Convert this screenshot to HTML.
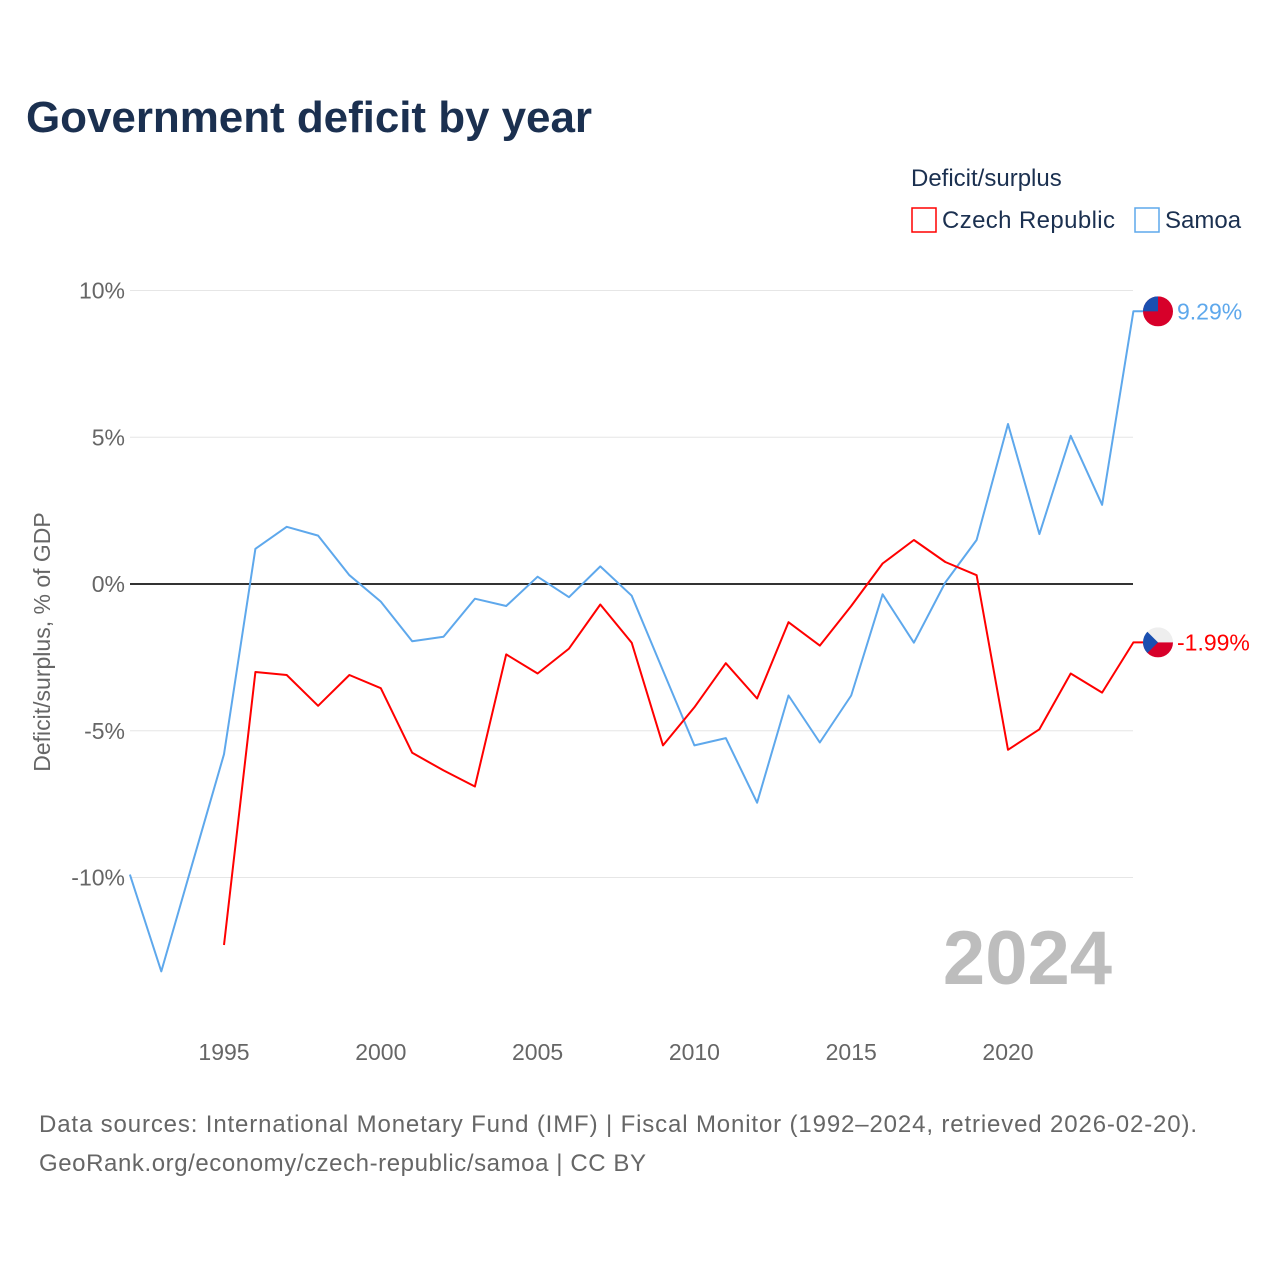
<!DOCTYPE html>
<html><head><meta charset="utf-8"><style>
body{margin:0;background:#fff;width:1280px;height:1280px;overflow:hidden;font-family:"Liberation Sans",sans-serif}
</style></head><body>
<svg id="chart" width="1280" height="1280" xmlns="http://www.w3.org/2000/svg" font-family="Liberation Sans, sans-serif">
<text x="26" y="132" font-size="44" font-weight="bold" fill="#1b3050" textLength="566">Government deficit by year</text>
<text x="911" y="186" font-size="24" fill="#1b3050">Deficit/surplus</text>
<g><rect x="912" y="208" width="24" height="24" fill="#fff" stroke="#ff0000" stroke-width="1.5"/><text x="942" y="228" font-size="24" fill="#1b3050" textLength="173">Czech Republic</text></g>
<g><rect x="1135" y="208" width="24" height="24" fill="#fff" stroke="#5ea8ec" stroke-width="1.5"/><text x="1165" y="228" font-size="24" fill="#1b3050">Samoa</text></g>
<text transform="translate(50,642) rotate(-90)" text-anchor="middle" font-size="23" fill="#666">Deficit/surplus, % of GDP</text>
<text x="1112" y="984" text-anchor="end" font-size="76" font-weight="bold" fill="#bdbdbd">2024</text>
<g id="grid"></g><g id="series"></g>
<text x="39" y="1132" font-size="24" fill="#666" textLength="1158">Data sources: International Monetary Fund (IMF) | Fiscal Monitor (1992–2024, retrieved 2026-02-20).</text>
<text x="39" y="1171" font-size="24" fill="#666" textLength="607">GeoRank.org/economy/czech-republic/samoa | CC BY</text>
</svg>
<script>
const years=[1992,1993,1994,1995,1996,1997,1998,1999,2000,2001,2002,2003,2004,2005,2006,2007,2008,2009,2010,2011,2012,2013,2014,2015,2016,2017,2018,2019,2020,2021,2022,2023,2024];
const samoa=[-9.9,-13.2,-9.5,-5.8,1.2,1.95,1.65,0.3,-0.6,-1.95,-1.8,-0.5,-0.75,0.25,-0.45,0.6,-0.4,-2.95,-5.5,-5.25,-7.45,-3.8,-5.4,-3.8,-0.35,-2.0,0.05,1.5,5.45,1.7,5.05,2.7,9.29];
const czech=[null,null,null,-12.3,-3.0,-3.1,-4.15,-3.1,-3.55,-5.75,-6.35,-6.9,-2.4,-3.05,-2.2,-0.7,-2.0,-5.5,-4.2,-2.7,-3.9,-1.3,-2.1,-0.75,0.7,1.5,0.75,0.3,-5.65,-4.95,-3.05,-3.7,-1.99];
const yTicks=[10,5,0,-5,-10];
const xTicks=[1995,2000,2005,2010,2015,2020];
const X=y=>224+(y-1995)*31.36;
const Y=v=>584-v*29.35;
const NS="http://www.w3.org/2000/svg";
const g=document.getElementById('grid'),s=document.getElementById('series');
function mk(tag,attrs,par){const e=document.createElementNS(NS,tag);for(const k in attrs)e.setAttribute(k,attrs[k]);par.appendChild(e);return e;}
yTicks.forEach(v=>{
 const l=mk('line',{x1:130,x2:1133,y1:Y(v),y2:Y(v),stroke:v===0?'#333':'#e6e6e6','stroke-width':v===0?2:1},g);
 
 
 const t=mk('text',{x:125,y:Y(v)+8,'text-anchor':'end','font-size':23,fill:'#666'},g);
 
 
 t.textContent=v+'%';
});
xTicks.forEach(v=>{
 const t=mk('text',{x:X(v),y:1060,'text-anchor':'middle','font-size':23,fill:'#666'},g);
 
 
 t.textContent=v;
});
function line(vals,color,name){
 let d='';vals.forEach((v,i)=>{if(v==null)return;d+=(d?'L':'M')+X(years[i]).toFixed(1)+','+Y(v).toFixed(1);});
 const last=vals[vals.length-1];d+='L1143,'+Y(last).toFixed(1);
 const p=mk('path',{d:d,fill:'none',stroke:color,'stroke-width':2,'stroke-linejoin':'round'},s);
 
 
 const t=mk('text',{x:1177,y:Y(last)+8,'font-size':23,fill:color},s);
 
 
 t.textContent=last.toFixed(2)+'%';
 return Y(last);
}
const ys=line(samoa,'#5ea8ec','samoa');
const yc=line(czech,'#ff0000','czech');
const f1=mk('g',{},s);


const cp1=mk('clipPath',{id:'c1'},f1);mk('circle',{cx:1158,cy:ys,r:15},cp1);
mk('rect',{x:1143,y:ys-15,width:30,height:30,fill:'#d7002a','clip-path':'url(#c1)'},f1);
mk('rect',{x:1143,y:ys-15,width:15,height:15,fill:'#1a4fb0','clip-path':'url(#c1)'},f1);
const f2=mk('g',{},s);


const cp=mk('clipPath',{id:'c2'},f2);mk('circle',{cx:1158,cy:yc,r:15},cp);
mk('rect',{x:1143,y:yc-15,width:30,height:15,fill:'#eeeeee','clip-path':'url(#c2)'},f2);
mk('rect',{x:1143,y:yc,width:30,height:15,fill:'#d7002a','clip-path':'url(#c2)'},f2);
mk('polygon',{points:`1143,${yc-15} 1158,${yc} 1143,${yc+15}`,fill:'#1a4fb0','clip-path':'url(#c2)'},f2);
</script>
</body></html>
